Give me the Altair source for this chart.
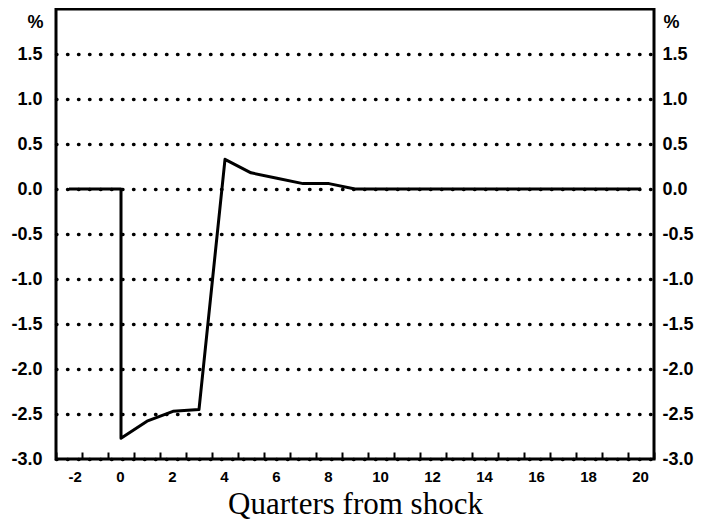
import altair as alt
import pandas as pd

# Impulse response (quarters from shock, %)
quarters = [-2, -1, 0, 0, 1, 2, 3, 4, 5, 6, 7, 8, 9, 10, 11, 12, 13, 14, 15, 16, 17, 18, 19, 20]
values = [0.0, 0.0, 0.0, -2.77, -2.58, -2.47, -2.45, 0.33, 0.18, 0.12, 0.06, 0.06, 0.0,
          0.0, 0.0, 0.0, 0.0, 0.0, 0.0, 0.0, 0.0, 0.0, 0.0, 0.0]

# Axis ticks
x_ticks = [-2.5, -1.5, -0.5, 0.5, 1.5, 2.5, 3.5, 4.5, 5.5, 6.5, 7.5, 8.5, 9.5, 10.5,
           11.5, 12.5, 13.5, 14.5, 15.5, 16.5, 17.5, 18.5, 19.5, 20.5]
y_ticks = [-3.0, -2.5, -2.0, -1.5, -1.0, -0.5, 0.0, 0.5, 1.0, 1.5]
x_title = "Quarters from shock"
y_title = "%"

df = pd.DataFrame({"q": quarters, "v": values, "i": list(range(len(quarters)))})

SANS = "Liberation Sans"
SERIF = "Liberation Serif"

x_enc = alt.X(
    "q:Q",
    scale=alt.Scale(domain=[-2.5, 20.5], nice=False, zero=False),
    axis=alt.Axis(
        values=x_ticks,
        labelExpr="(datum.value + 0.5) % 2 == 0 ? '' + (datum.value + 0.5) : ''",
        labelOffset=12,
        offset=-7,
        tickSize=7,
        tickWidth=2,
        tickColor="black",
        domain=False,
        grid=False,
        labelPadding=10,
        labelFont=SANS,
        labelFontSize=15,
        labelFontWeight="bold",
        labelColor="black",
        title=x_title,
        titleFont=SERIF,
        titleFontSize=31,
        titleFontWeight="normal",
        titleColor="black",
        titleBaseline="alphabetic",
        titleY=61,
    ),
)

y_label_expr = "replace(format(datum.value, '.1f'), '\u2212', '-')"

y_left = alt.Y(
    "v:Q",
    scale=alt.Scale(domain=[-3, 2], nice=False, zero=False),
    axis=alt.Axis(
        values=y_ticks,
        labelExpr=y_label_expr,
        grid=True,
        gridDash=[0.5, 10.5],
        gridWidth=3.4,
        gridCap="round",
        gridColor="black",
        gridOpacity=1,
        domain=False,
        ticks=False,
        labelPadding=14,
        labelFont=SANS,
        labelFontSize=18,
        labelFontWeight="bold",
        labelColor="black",
        title=y_title,
        titleFont=SANS,
        titleFontSize=18,
        titleFontWeight="bold",
        titleColor="black",
        titleAngle=0,
        titleAlign="right",
        titleBaseline="top",
        titleX=-13,
        titleY=4,
    ),
)

y_right = alt.Y(
    "v:Q",
    scale=alt.Scale(domain=[-3, 2], nice=False, zero=False),
    axis=alt.Axis(
        orient="right",
        values=y_ticks,
        labelExpr=y_label_expr,
        grid=False,
        domain=False,
        ticks=False,
        labelPadding=8,
        labelFont=SANS,
        labelFontSize=18,
        labelFontWeight="bold",
        labelColor="black",
        title=y_title,
        titleFont=SANS,
        titleFontSize=18,
        titleFontWeight="bold",
        titleColor="black",
        titleAngle=0,
        titleAlign="left",
        titleBaseline="top",
        titleX=9,
        titleY=4,
    ),
)

line = alt.Chart(df).mark_line(color="black", strokeWidth=3, strokeJoin="round").encode(
    x=x_enc, y=y_left, order="i:Q"
)
line_right = alt.Chart(df).mark_line(color="black", strokeWidth=3, strokeOpacity=0).encode(
    x=x_enc, y=y_right, order="i:Q"
)

chart = (
    alt.layer(line, line_right)
    .resolve_axis(y="independent")
    .properties(width=598, height=450, background="white",
                padding={"left": 2, "top": 1, "right": 0, "bottom": 0})
    .configure_view(stroke="black", strokeWidth=3)
)

chart.save("out.html", embed_options={"renderer": "svg", "actions": False})
